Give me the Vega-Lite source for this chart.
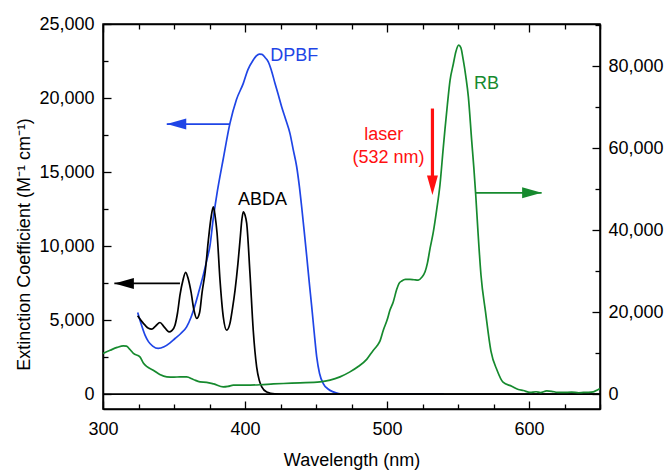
{
  "$schema": "https://vega.github.io/schema/vega-lite/v6.json",
  "width": 497,
  "height": 385,
  "autosize": {"type": "none"},
  "padding": {"left": 103, "top": 24, "right": 67, "bottom": 61},
  "background": "white",
  "config": {
    "font": "Liberation Sans",
    "view": {"stroke": "#000", "strokeWidth": 1.5},
    "axis": {
      "domainColor": "#000", "domainWidth": 1.5,
      "tickColor": "#000", "tickWidth": 1.3,
      "labelColor": "#000", "labelFont": "Liberation Sans", "labelFontSize": 18,
      "titleFont": "Liberation Sans", "titleFontSize": 18, "titleFontWeight": "normal", "titleColor": "#000",
      "grid": false, "labelFlush": false, "labelOverlap": false
    },
    "text": {"font": "Liberation Sans", "fontSize": 18}
  },
  "datasets": {
    "abda": [
      {"wl": 324.4, "v": 5300}, {"wl": 327, "v": 4950}, {"wl": 329.6, "v": 4660}, {"wl": 332, "v": 4450},
      {"wl": 334.3, "v": 4390}, {"wl": 337, "v": 4600}, {"wl": 340.1, "v": 4840}, {"wl": 343, "v": 4550},
      {"wl": 346.5, "v": 4210}, {"wl": 348.5, "v": 4300}, {"wl": 350.7, "v": 4660}, {"wl": 352.5, "v": 5500},
      {"wl": 354.2, "v": 6690}, {"wl": 356.3, "v": 7700}, {"wl": 358.2, "v": 8230}, {"wl": 360, "v": 7800},
      {"wl": 362, "v": 6910}, {"wl": 364, "v": 5700}, {"wl": 366, "v": 5120}, {"wl": 368, "v": 5500},
      {"wl": 369.8, "v": 6900}, {"wl": 372, "v": 8300}, {"wl": 374.2, "v": 10400}, {"wl": 376.2, "v": 12000},
      {"wl": 377.7, "v": 12650}, {"wl": 379, "v": 12000}, {"wl": 380.3, "v": 10900}, {"wl": 382.4, "v": 7700},
      {"wl": 384.7, "v": 5220}, {"wl": 387.1, "v": 4320}, {"wl": 389.4, "v": 4780}, {"wl": 391.2, "v": 5800},
      {"wl": 393, "v": 7030}, {"wl": 395, "v": 8800}, {"wl": 396.5, "v": 10400}, {"wl": 397.8, "v": 11800},
      {"wl": 398.8, "v": 12320}, {"wl": 400, "v": 12100}, {"wl": 401.2, "v": 11530}, {"wl": 403.5, "v": 8160},
      {"wl": 405.8, "v": 4320}, {"wl": 408.2, "v": 1850}, {"wl": 410, "v": 950}, {"wl": 411.8, "v": 500},
      {"wl": 415.3, "v": 155}, {"wl": 421, "v": 20}, {"wl": 430, "v": 0}, {"wl": 650, "v": 0}
    ],
    "dpbf": [
      {"wl": 324.4, "v": 5520}, {"wl": 327, "v": 4700}, {"wl": 329.6, "v": 3990}, {"wl": 332, "v": 3550},
      {"wl": 335, "v": 3250}, {"wl": 338.9, "v": 3090}, {"wl": 343, "v": 3200}, {"wl": 347, "v": 3450},
      {"wl": 350.7, "v": 3760}, {"wl": 354.8, "v": 4100}, {"wl": 358.9, "v": 4550}, {"wl": 362, "v": 5200},
      {"wl": 364.8, "v": 6010}, {"wl": 367.7, "v": 7000}, {"wl": 370.6, "v": 8040}, {"wl": 373, "v": 9000},
      {"wl": 375.4, "v": 10070}, {"wl": 377.7, "v": 11900}, {"wl": 380.1, "v": 13450}, {"wl": 384.7, "v": 15900},
      {"wl": 389.4, "v": 18290}, {"wl": 394, "v": 19900}, {"wl": 398.8, "v": 20990}, {"wl": 402, "v": 21900},
      {"wl": 405.8, "v": 22570}, {"wl": 408, "v": 22850}, {"wl": 410.1, "v": 22970}, {"wl": 412, "v": 22950},
      {"wl": 414, "v": 22750}, {"wl": 416.4, "v": 22450}, {"wl": 418.5, "v": 21900}, {"wl": 421.1, "v": 21000},
      {"wl": 423.5, "v": 20200}, {"wl": 425.8, "v": 19410}, {"wl": 428.5, "v": 18600}, {"wl": 431.7, "v": 17600},
      {"wl": 434, "v": 16500}, {"wl": 436.4, "v": 15360}, {"wl": 438.2, "v": 14100}, {"wl": 439.9, "v": 12660},
      {"wl": 441.7, "v": 11000}, {"wl": 443.5, "v": 9280}, {"wl": 445.2, "v": 7600}, {"wl": 447, "v": 5900},
      {"wl": 448.7, "v": 4200}, {"wl": 450.5, "v": 2520}, {"wl": 452.5, "v": 1400}, {"wl": 455.1, "v": 720},
      {"wl": 458.5, "v": 350}, {"wl": 462.2, "v": 155}, {"wl": 466, "v": 40}, {"wl": 470, "v": 0}, {"wl": 540, "v": 0}
    ],
    "rb": [
      {"wl": 300, "v": 9930}, {"wl": 305, "v": 10700}, {"wl": 310, "v": 11400}, {"wl": 314.3, "v": 11780},
      {"wl": 316.5, "v": 11700}, {"wl": 319, "v": 10900}, {"wl": 321.4, "v": 9930}, {"wl": 326, "v": 9100},
      {"wl": 328.4, "v": 7600}, {"wl": 331, "v": 6700}, {"wl": 335.4, "v": 5850}, {"wl": 340, "v": 4800},
      {"wl": 344.9, "v": 4220}, {"wl": 350, "v": 4150}, {"wl": 354.2, "v": 4220}, {"wl": 358.9, "v": 4200},
      {"wl": 363.6, "v": 3600}, {"wl": 368.3, "v": 3000}, {"wl": 373, "v": 2900}, {"wl": 378, "v": 2500},
      {"wl": 384.7, "v": 1780}, {"wl": 388, "v": 1900}, {"wl": 391.8, "v": 2200}, {"wl": 400, "v": 2200},
      {"wl": 410.6, "v": 2300}, {"wl": 420, "v": 2500}, {"wl": 427, "v": 2610}, {"wl": 438.7, "v": 2760},
      {"wl": 452.8, "v": 3000}, {"wl": 459.9, "v": 3420}, {"wl": 466.9, "v": 4220}, {"wl": 473.9, "v": 5440},
      {"wl": 480, "v": 6800}, {"wl": 485.7, "v": 8500}, {"wl": 490.4, "v": 10730}, {"wl": 493, "v": 11800},
      {"wl": 495.1, "v": 13000}, {"wl": 497.4, "v": 15600}, {"wl": 500, "v": 18000}, {"wl": 502.1, "v": 20500},
      {"wl": 504.4, "v": 22500}, {"wl": 506.8, "v": 25500}, {"wl": 508.5, "v": 27000}, {"wl": 510.4, "v": 27600},
      {"wl": 513, "v": 28000}, {"wl": 516.2, "v": 28000}, {"wl": 519, "v": 27900}, {"wl": 522, "v": 27800},
      {"wl": 524.5, "v": 28500}, {"wl": 526.8, "v": 29830}, {"wl": 528.5, "v": 32000}, {"wl": 530.3, "v": 35500},
      {"wl": 532.6, "v": 39500}, {"wl": 535, "v": 45000}, {"wl": 537.3, "v": 51000}, {"wl": 539.6, "v": 60000},
      {"wl": 540.8, "v": 64500}, {"wl": 542.5, "v": 70500}, {"wl": 544.4, "v": 76500}, {"wl": 546.7, "v": 80500},
      {"wl": 548.5, "v": 83500}, {"wl": 550.5, "v": 85100}, {"wl": 552, "v": 84500}, {"wl": 553.7, "v": 81500},
      {"wl": 555.5, "v": 77500}, {"wl": 557.3, "v": 72500}, {"wl": 559.6, "v": 62000}, {"wl": 561.2, "v": 55000},
      {"wl": 562.5, "v": 48500}, {"wl": 564, "v": 40000}, {"wl": 566.2, "v": 29000}, {"wl": 569.4, "v": 20000},
      {"wl": 573.2, "v": 10500}, {"wl": 577.5, "v": 5850}, {"wl": 581.7, "v": 2930}, {"wl": 587.8, "v": 1950},
      {"wl": 592.5, "v": 1150}, {"wl": 596, "v": 900}, {"wl": 600.7, "v": 420}, {"wl": 605, "v": 600},
      {"wl": 608, "v": 400}, {"wl": 612.5, "v": 800}, {"wl": 616, "v": 700}, {"wl": 620, "v": 450},
      {"wl": 624.2, "v": 420}, {"wl": 630, "v": 500}, {"wl": 635, "v": 350}, {"wl": 638.3, "v": 420},
      {"wl": 642, "v": 450}, {"wl": 645.3, "v": 560}, {"wl": 648.8, "v": 1150}, {"wl": 650, "v": 1300}
    ],
    "arrows": [
      {"series": "DPBF", "tip": 344.9, "end": 389.4, "y": 18244, "dir": "left"},
      {"series": "ABDA", "tip": 308, "end": 354.2, "y": 7480, "dir": "left"},
      {"series": "RB", "tip": 608.9, "end": 562.4, "y": 13602, "dir": "right"}
    ],
    "heads": [
      {"series": "DPBF", "tip": 344.9, "y": 18244, "dir": "left"},
      {"series": "ABDA", "tip": 308, "y": 7480, "dir": "left"},
      {"series": "RB", "tip": 608.9, "y": 13602, "dir": "right"},
      {"series": "laser", "tip": 532, "y": 13446, "dir": "down"}
    ],
    "laser": [{"series": "laser", "x": 532, "top": 19291, "tip": 14300}],
    "labels": [
      {"text": "DPBF", "series": "DPBF", "x": 417.7, "y": 22500},
      {"text": "ABDA", "series": "ABDA", "x": 395.1, "y": 12770},
      {"text": "RB", "series": "RB", "x": 561.3, "y": 20640}
    ],
    "laserlabels": [
      {"text": "laser", "series": "laser", "x": 497.7, "y": 17163},
      {"text": "(532 nm)", "series": "laser", "x": 501.1, "y": 15643}
    ]
  },
  "resolve": {"scale": {"y": "independent"}, "axis": {"x": "independent", "y": "independent"}},
  "layer": [
    {
      "data": {"name": "dpbf"},
      "mark": {"type": "line", "color": "#1f45e6", "strokeWidth": 1.7, "interpolate": "monotone", "clip": true},
      "encoding": {
        "x": {
          "field": "wl", "type": "quantitative", "scale": {"domain": [300, 650], "nice": false},
          "axis": {
            "orient": "top",
            "values": [300, 325, 350, 375, 400, 425, 450, 475, 500, 525, 550, 575, 600, 625, 650],
            "labels": false,
            "tickSize": {"condition": {"test": "datum.value % 100 === 0", "value": -8}, "value": -5},
            "title": null
          }
        },
        "y": {"field": "v", "type": "quantitative", "scale": {"domain": [-1000, 25000], "nice": false}, "axis": null}
      }
    },
    {
      "data": {"values": [{}]},
      "mark": {"type": "rule", "color": "#000", "strokeWidth": 1.8},
      "encoding": {
        "y": {"datum": 0, "type": "quantitative", "scale": {"domain": [-1000, 25000], "nice": false}, "axis": null}
      }
    },
    {
      "data": {"name": "abda"},
      "mark": {"type": "line", "color": "#000", "strokeWidth": 1.7, "interpolate": "monotone", "clip": true},
      "encoding": {
        "x": {
          "field": "wl", "type": "quantitative", "scale": {"domain": [300, 650], "nice": false},
          "axis": {
            "orient": "bottom",
            "values": [300, 325, 350, 375, 400, 425, 450, 475, 500, 525, 550, 575, 600, 625, 650],
            "labelExpr": "datum.value % 100 === 0 ? datum.label : ''",
            "format": "d",
            "tickSize": {"condition": {"test": "datum.value % 100 === 0", "value": -8}, "value": -5},
            "labelPadding": 19,
            "title": "Wavelength (nm)",
            "titleX": 248.5, "titleY": 56.5, "titleBaseline": "alphabetic", "titleAlign": "center"
          }
        },
        "y": {
          "field": "v", "type": "quantitative", "scale": {"domain": [-1000, 25000], "nice": false},
          "axis": {
            "orient": "left",
            "values": [0, 2500, 5000, 7500, 10000, 12500, 15000, 17500, 20000, 22500, 25000],
            "labelExpr": "datum.value % 5000 === 0 ? datum.label : ''",
            "format": ",d",
            "tickSize": {"condition": {"test": "datum.value % 5000 === 0", "value": -8}, "value": -5},
            "labelPadding": 17,
            "title": "Extinction Coefficient (M⁻¹ cm⁻¹)",
            "titleX": -74, "titleY": 220, "titleBaseline": "alphabetic", "titleAlign": "center", "titleAngle": -90
          }
        }
      }
    },
    {
      "data": {"name": "rb"},
      "mark": {"type": "line", "color": "#168a2e", "strokeWidth": 1.7, "interpolate": "monotone", "clip": true},
      "encoding": {
        "x": {"field": "wl", "type": "quantitative", "scale": {"domain": [300, 650], "nice": false}, "axis": null},
        "y": {
          "field": "v", "type": "quantitative", "scale": {"domain": [-3610, 90250], "nice": false},
          "axis": {
            "orient": "right",
            "values": [0, 10000, 20000, 30000, 40000, 50000, 60000, 70000, 80000, 90000],
            "labelExpr": "datum.value % 20000 === 0 ? datum.label : ''",
            "format": ",d",
            "tickSize": {"condition": {"test": "datum.value % 20000 === 0", "value": -8}, "value": -5},
            "labelPadding": 16,
            "title": null
          }
        }
      }
    },
    {
      "data": {"name": "arrows"},
      "mark": {"type": "rule", "strokeWidth": 1.8},
      "encoding": {
        "x": {"field": "tip", "type": "quantitative", "scale": {"domain": [300, 650], "nice": false}, "axis": null},
        "x2": {"field": "end"},
        "y": {"field": "y", "type": "quantitative", "scale": {"domain": [-1000, 25000], "nice": false}, "axis": null},
        "color": {"field": "series", "type": "nominal", "scale": {"domain": ["ABDA", "DPBF", "RB", "laser"], "range": ["#000000", "#1f45e6", "#168a2e", "#ff1010"]}, "legend": null}
      }
    },
    {
      "data": {"name": "laser"},
      "mark": {"type": "rule", "strokeWidth": 3.2},
      "encoding": {
        "x": {"field": "x", "type": "quantitative", "scale": {"domain": [300, 650], "nice": false}, "axis": null},
        "y": {"field": "top", "type": "quantitative", "scale": {"domain": [-1000, 25000], "nice": false}, "axis": null},
        "y2": {"field": "tip"},
        "color": {"field": "series", "type": "nominal", "scale": {"domain": ["ABDA", "DPBF", "RB", "laser"], "range": ["#000000", "#1f45e6", "#168a2e", "#ff1010"]}, "legend": null}
      }
    },
    {
      "data": {"name": "heads"},
      "mark": {"type": "point", "filled": true, "opacity": 1, "size": 1521, "strokeWidth": 0},
      "encoding": {
        "x": {"field": "tip", "type": "quantitative", "scale": {"domain": [300, 650], "nice": false}, "axis": null},
        "y": {"field": "y", "type": "quantitative", "scale": {"domain": [-1000, 25000], "nice": false}, "axis": null},
        "shape": {"field": "dir", "type": "nominal", "scale": {"domain": ["left", "right", "down"], "range": ["M0,0L1,-0.28L1,0.28Z", "M0,0L-1,-0.28L-1,0.28Z", "M0,0L-0.28,-1L0.28,-1Z"]}, "legend": null},
        "color": {"field": "series", "type": "nominal", "scale": {"domain": ["ABDA", "DPBF", "RB", "laser"], "range": ["#000000", "#1f45e6", "#168a2e", "#ff1010"]}, "legend": null}
      }
    },
    {
      "data": {"name": "labels"},
      "mark": {"type": "text", "align": "left", "baseline": "alphabetic", "fontSize": 18},
      "encoding": {
        "x": {"field": "x", "type": "quantitative", "scale": {"domain": [300, 650], "nice": false}, "axis": null},
        "y": {"field": "y", "type": "quantitative", "scale": {"domain": [-1000, 25000], "nice": false}, "axis": null},
        "text": {"field": "text"},
        "color": {"field": "series", "type": "nominal", "scale": {"domain": ["ABDA", "DPBF", "RB", "laser"], "range": ["#000000", "#1f45e6", "#168a2e", "#ff1010"]}, "legend": null}
      }
    },
    {
      "data": {"name": "laserlabels"},
      "mark": {"type": "text", "align": "center", "baseline": "alphabetic", "fontSize": 18},
      "encoding": {
        "x": {"field": "x", "type": "quantitative", "scale": {"domain": [300, 650], "nice": false}, "axis": null},
        "y": {"field": "y", "type": "quantitative", "scale": {"domain": [-1000, 25000], "nice": false}, "axis": null},
        "text": {"field": "text"},
        "color": {"field": "series", "type": "nominal", "scale": {"domain": ["ABDA", "DPBF", "RB", "laser"], "range": ["#000000", "#1f45e6", "#168a2e", "#ff1010"]}, "legend": null}
      }
    }
  ]
}
